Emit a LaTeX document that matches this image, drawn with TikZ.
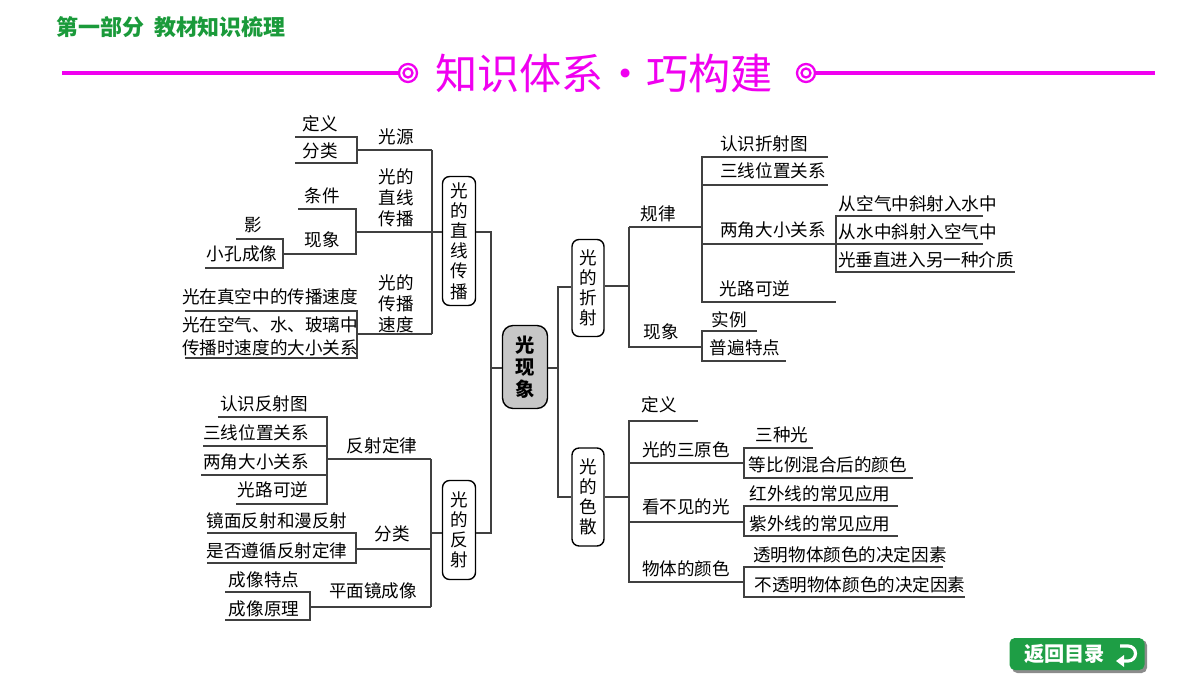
\documentclass[tikz,border=0pt]{standalone}
\usepackage{fontspec}
\setmainfont{Noto Sans CJK SC}
\definecolor{HeadGreen}{HTML}{1A9A3A}
\definecolor{TitlePink}{HTML}{F000F0}
\definecolor{BtnGreen}{HTML}{1E9E45}
\tikzset{
    txt/.style={font=\fontsize{10}{12}\selectfont, inner sep=0pt},
    vbox/.style={draw, rounded corners=4pt, thick, fill=white, align=center,
        font=\fontsize{10}{11.5}\selectfont},
    ln/.style={line width=0.8pt, color=black!75},
}
% text centred at (x,y)
\newcommand\Lbl[4][]{\node[txt,#1] (#2) at (#3) {#4};}

\begin{document}
\begin{tikzpicture}[x=0.02cm,y=-0.02cm]
    \useasboundingbox (0,0) rectangle (1200,675);
    % header
    \node[font=\fontsize{12.5}{14}\selectfont\bfseries, text=HeadGreen, inner sep=0pt] (part) at (171,27) {第一部分\ \ 教材知识梳理};
    \node[font=\fontsize{24}{26}\selectfont, text=TitlePink, inner sep=0pt] (title) at (604,73) {知识体系·巧构建};
    \draw[TitlePink, line width=2.5pt] (62,73) -- (399,73);
    \draw[TitlePink, line width=2.5pt] (815,73) -- (1155,73);
    \foreach \cx in {408,806} {
        \draw[TitlePink, line width=1.3pt] (\cx,73) circle (9);
        \draw[TitlePink, line width=1.3pt] (\cx,73) circle (4.5);
    }

    % centre
    \node[vbox, fill=black!22, minimum width=0.9cm, minimum height=1.66cm, rounded corners=6pt,
        font=\fontsize{11}{12.5}\selectfont\bfseries] (core) at (525,367) {光\\现\\象};
    \node[vbox, minimum width=0.66cm, minimum height=2.4cm] (zx) at (459,241) {光\\的\\直\\线\\传\\播};
    \node[vbox, minimum width=0.66cm, minimum height=1.98cm] (fs) at (459,530) {光\\的\\反\\射};
    \node[vbox, minimum width=0.64cm, minimum height=1.94cm] (zs) at (588,288) {光\\的\\折\\射};
    \node[vbox, minimum width=0.64cm, minimum height=1.96cm] (ss) at (588,497) {光\\的\\色\\散};
    \draw[ln] (zx.east |- 0,232) -- (491,232) -- (491,533) -- (fs.east |- 0,533);
    \draw[ln] (491,368) -- (core.west |- 0,368);
    \draw[ln] (core.east |- 0,368) -- (558,368);
    \draw[ln] (zs.west |- 0,287) -- (558,287) -- (558,497) -- (ss.west |- 0,497);

    % 光的直线传播
    \draw[ln] (zx.west |- 0,232) -- (432,232);
    \draw[ln] (432,150) -- (432,334);
    \draw[ln] (295,137) -- (357,137) -- (357,163) -- (295,163);
    \draw[ln] (357,150) -- (432,150);
    \Lbl{dy}{320,124}{定义} \Lbl{fl}{320,151}{分类} \Lbl{gy}{396,137}{光源}
    \node[txt, align=center] (zxcb) at (396,198) {光的\\直线\\传播};
    \draw[ln] (356,232) -- (432,232);
    \draw[ln] (298,209) -- (356,209) -- (356,254) -- (283,254);
    \Lbl{tj}{322,196}{条件} \Lbl{xx}{322,240}{现象}
    \draw[ln] (236,239) -- (283,239) -- (283,268) -- (205,268);
    \Lbl{ying}{253,225}{影} \Lbl{xk}{242,254}{小孔成像}
    \node[txt, align=center] (cbsd) at (396,304) {光的\\传播\\速度};
    \draw[ln] (357,334) -- (432,334);
    \draw[ln] (185,311) -- (357,311) -- (357,358) -- (185,358);
    \Lbl{zk}{270,297}{光在真空中的传播速度}
    \node[txt, align=center] (kq) at (270,336) {光在空气、水、玻璃中\\[1pt]传播时速度的大小关系};

    % 光的反射
    \draw[ln] (fs.west |- 0,533) -- (431,533);
    \draw[ln] (431,459) -- (431,607);
    \draw[ln] (327,459) -- (431,459);
    \Lbl{fsdl}{382,446}{反射定律}
    \draw[ln] (218,417) -- (327,417) -- (327,504) -- (236,504);
    \draw[ln] (203,446) -- (327,446);
    \draw[ln] (201,475) -- (327,475);
    \Lbl{rs}{264,404}{认识反射图} \Lbl{sx}{256,433}{三线位置关系}
    \Lbl{lj}{256,462}{两角大小关系} \Lbl{gl}{273,490}{光路可逆}
    \draw[ln] (356,549) -- (431,549);
    \Lbl{fsfl}{392,534}{分类}
    \draw[ln] (207,533) -- (356,533) -- (356,563) -- (207,563);
    \Lbl{jm}{277,521}{镜面反射和漫反射} \Lbl{sf}{277,551}{是否遵循反射定律}
    \draw[ln] (310,607) -- (431,607);
    \Lbl{pm}{373,591}{平面镜成像}
    \draw[ln] (225,592) -- (310,592) -- (310,620) -- (225,620);
    \Lbl{td}{264,580}{成像特点} \Lbl{yl}{264,609}{成像原理}

    % 光的折射
    \draw[ln] (zs.east |- 0,286) -- (629,286);
    \draw[ln] (629,227) -- (702,227);
    \draw[ln] (629,227) -- (629,347) -- (702,347);
    \Lbl{gll}{658,214}{规律} \Lbl{zsxx}{661,332}{现象}
    \draw[ln] (828,157) -- (702,157) -- (702,302) -- (836,302);
    \draw[ln] (702,185) -- (828,185);
    \draw[ln] (702,244) -- (836,244);
    \Lbl{rzs}{764,144}{认识折射图} \Lbl{zsx}{773,171}{三线位置关系}
    \Lbl{zlj}{773,230}{两角大小关系} \Lbl{zgl}{755,289}{光路可逆}
    \draw[ln] (983,216) -- (836,216) -- (836,272) -- (1015,272);
    \draw[ln] (836,244) -- (983,244);
    \Lbl{kqs}{918,204}{从空气中斜射入水中} \Lbl{sks}{918,232}{从水中斜射入空气中}
    \Lbl{cz}{926,260}{光垂直进入另一种介质}
    \draw[ln] (757,331) -- (702,331) -- (702,361) -- (786,361);
    \Lbl{sl}{729,320}{实例} \Lbl{pb}{745,348}{普遍特点}

    % 光的色散
    \draw[ln] (ss.east |- 0,497) -- (629,497);
    \draw[ln] (698,421) -- (629,421) -- (629,582) -- (744,582);
    \draw[ln] (629,463) -- (744,463);
    \draw[ln] (629,522) -- (744,522);
    \Lbl{sdy}{659,405}{定义} \Lbl{sy}{686,450}{光的三原色}
    \Lbl{kbj}{686,507}{看不见的光} \Lbl{wt}{686,569}{物体的颜色}
    \draw[ln] (813,448) -- (744,448) -- (744,478) -- (913,478);
    \Lbl{szg}{782,435}{三种光} \Lbl{dbl}{828,465}{等比例混合后的颜色}
    \draw[ln] (898,506) -- (744,506) -- (744,536) -- (898,536);
    \Lbl{hw}{820,494}{红外线的常见应用} \Lbl{zw}{820,524}{紫外线的常见应用}
    \draw[ln] (943,567) -- (744,567) -- (744,597) -- (965,597);
    \Lbl{tm}{850,555}{透明物体颜色的决定因素} \Lbl{btm}{860,585}{不透明物体颜色的决定因素}

    % button
    \fill[black!45, rounded corners=3pt] (1012,640) rectangle (1147,673);
    \node[fill=BtnGreen, rounded corners=3pt, minimum width=2.7cm, minimum height=0.64cm, inner sep=0pt,
        text=white, font=\fontsize{11.5}{13}\selectfont\bfseries] (back) at (1077,654) {\hspace*{-0.5cm}返回目录};
    \draw[white, line width=1.8pt] (1120,646) -- (1128,646) arc (-90:90:7.5) -- (1124,661);
    \fill[white] (1116,661) -- (1124,655) -- (1124,667) -- cycle;
\end{tikzpicture}
\end{document}
